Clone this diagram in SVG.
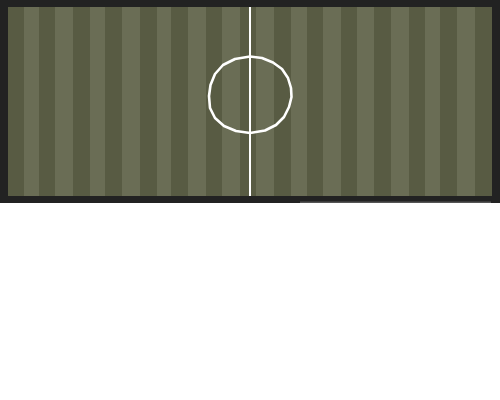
<svg xmlns="http://www.w3.org/2000/svg" width="500" height="400" viewBox="0 0 500 400">
<style>
.d{fill:#585b43}
.l{fill:#6a6d55}
.w{fill:none;stroke:#ffffff;stroke-width:2.6;stroke-linejoin:round}
</style>
<rect x="0" y="0" width="500" height="400" fill="#ffffff"/>
<rect x="0" y="0" width="500" height="203" fill="#222222"/>
<rect x="300" y="201.5" width="191" height="1.5" fill="#555555"/>
<g id="field">
<rect class="d" x="8" y="7" width="484" height="189"/>
<rect class="l" x="24" y="7" width="15" height="189"/>
<rect class="l" x="55" y="7" width="18" height="189"/>
<rect class="l" x="90" y="7" width="15" height="189"/>
<rect class="l" x="122" y="7" width="18" height="189"/>
<rect class="l" x="157" y="7" width="14" height="189"/>
<rect class="l" x="188" y="7" width="18" height="189"/>
<rect class="l" x="222" y="7" width="18" height="189"/>
<rect class="l" x="256" y="7" width="18" height="189"/>
<rect class="l" x="291" y="7" width="16" height="189"/>
<rect class="l" x="323" y="7" width="18" height="189"/>
<rect class="l" x="357" y="7" width="17" height="189"/>
<rect class="l" x="391" y="7" width="18" height="189"/>
<rect class="l" x="425" y="7" width="15" height="189"/>
<rect class="l" x="457" y="7" width="18" height="189"/>
</g>
<g id="markings">
<line x1="250" y1="7" x2="250" y2="196" stroke="#ffffff" stroke-width="2"/>
<polygon class="w" points="250,56.5 262,58 273,62.5 282,69 288,78 291,88 291.5,97 289,107 284,117 276,125 265,130.5 250,133 236,131 224,126 215,118 210,108 209,96 210.5,85 215,74 223,65 235,59"/>
</g>
</svg>
